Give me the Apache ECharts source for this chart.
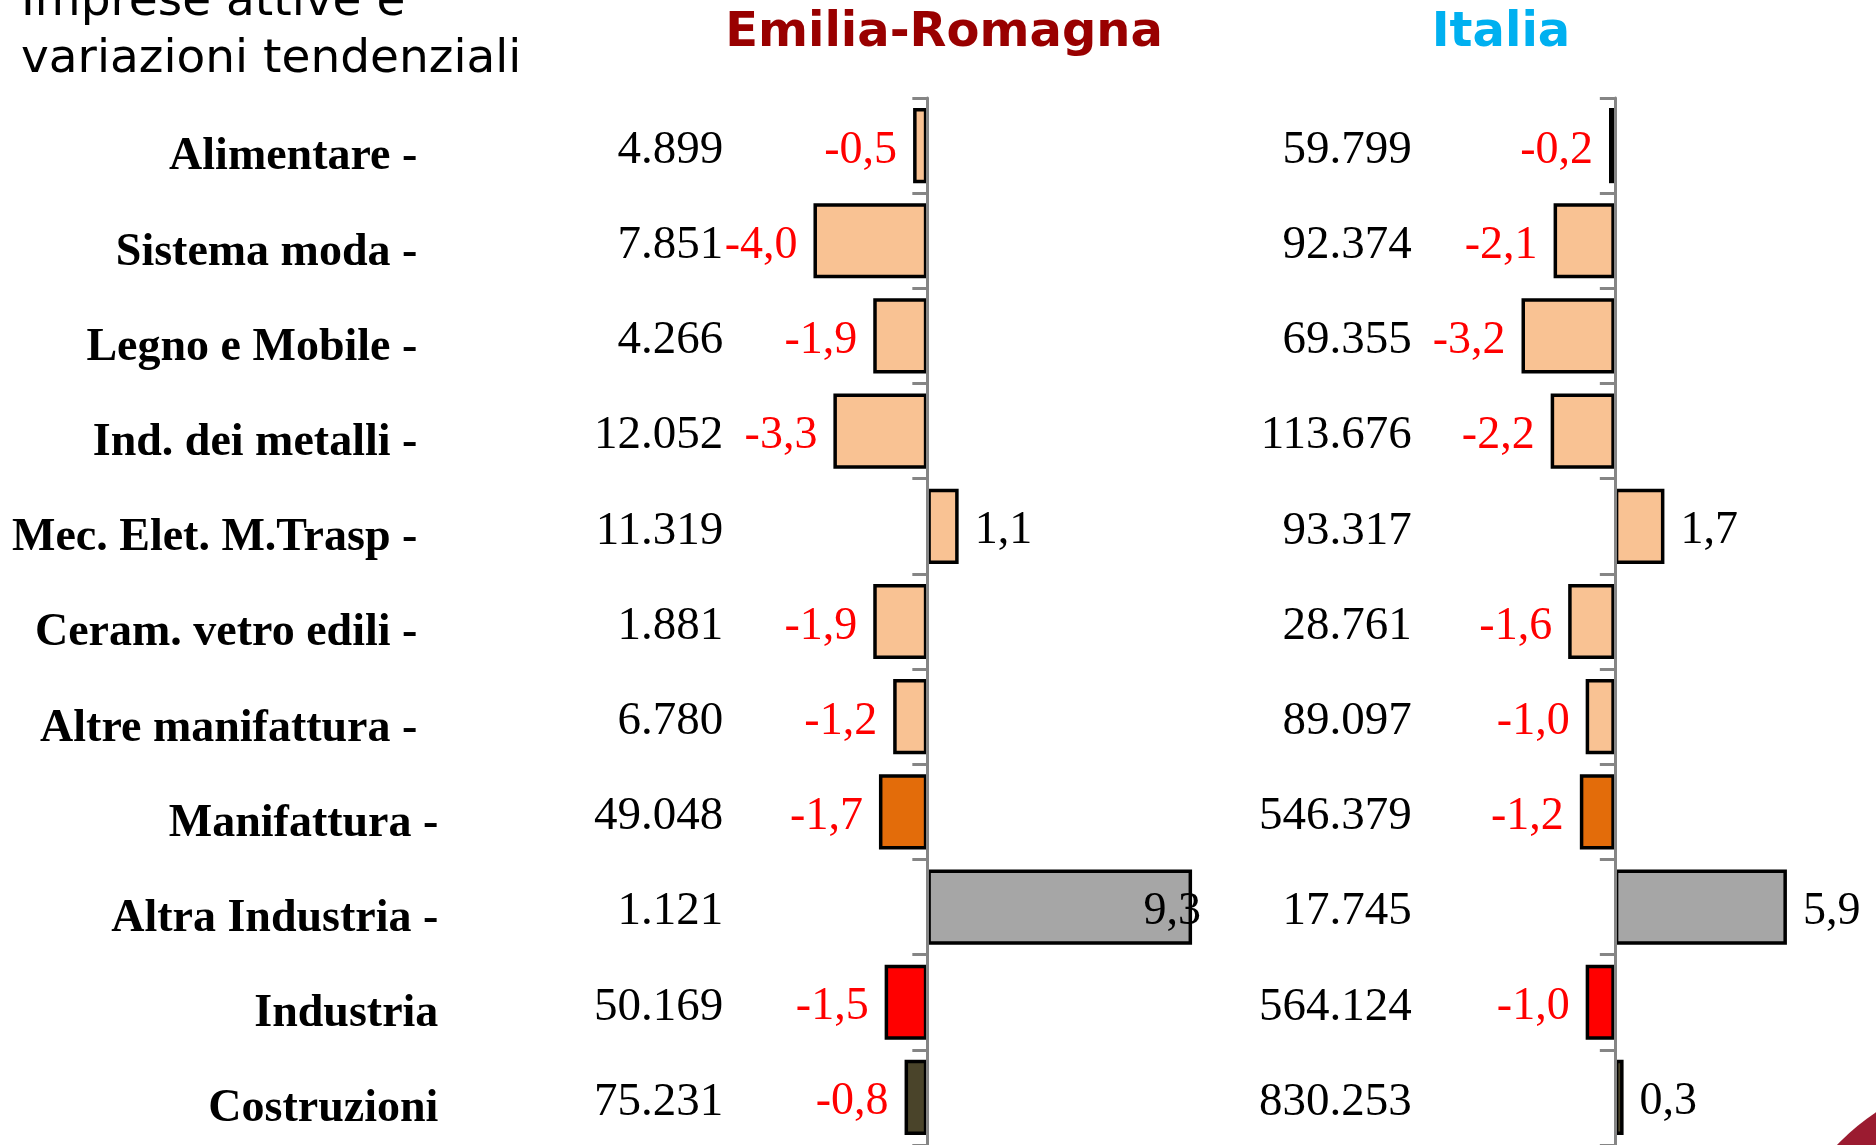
<!DOCTYPE html>
<html>
<head>
<meta charset="utf-8">
<script src="https://cdn.jsdelivr.net/npm/echarts@6/dist/echarts.min.js"></script>
<style>
html, body { margin: 0; padding: 0; background: #fff; }
#main { width: 1876px; height: 1145px; }
</style>
</head>
<body>
<div id="main"></div>
<script>
// settori
var categories = ['Alimentare -', 'Sistema moda -', 'Legno e Mobile -', 'Ind. dei metalli -',
    'Mec. Elet. M.Trasp -', 'Ceram. vetro edili -', 'Altre manifattura -', 'Manifattura -',
    'Altra Industria -', 'Industria', 'Costruzioni'];

// Emilia-Romagna: imprese attive e variazione %
var erCount = [4899, 7851, 4266, 12052, 11319, 1881, 6780, 49048, 1121, 50169, 75231];
var erVar = [-0.5, -4.0, -1.9, -3.3, 1.1, -1.9, -1.2, -1.7, 9.3, -1.5, -0.8];

// Italia
var itCount = [59799, 92374, 69355, 113676, 93317, 28761, 89097, 546379, 17745, 564124, 830253];
var itVar = [-0.2, -2.1, -3.2, -2.2, 1.7, -1.6, -1.0, -1.2, 5.9, -1.0, 0.3];

var barColors = ['#F9C293', '#F9C293', '#F9C293', '#F9C293', '#F9C293', '#F9C293', '#F9C293',
    '#E36C0A', '#A6A6A6', '#FF0000', '#4A442A'];

var serif = '"Liberation Serif", "Times New Roman", serif';
var sans = '"DejaVu Sans", Verdana, sans-serif';

function fmtCount(n) {
    return String(n).replace(/\B(?=(\d{3})+(?!\d))/g, '.');
}
function fmtVar(v) {
    return v.toFixed(1).replace('.', ',');
}

function barData(vals) {
    return vals.map(function (v, i) {
        return {
            value: v,
            itemStyle: {color: barColors[i]},
            label: {position: v < 0 ? 'left' : 'right', color: v < 0 ? '#FF0000' : '#000'}
        };
    });
}

var erData = barData(erVar);
// 9,3 finisce sopra il bordo della barra come nell'originale
erData[8].label = {position: 'insideRight', offset: [25, 5], color: '#000'};
var itData = barData(itVar);

var axisGray = '#858585';

// griglie: [left, width, min, max] -> l'asse categorie va spostato sullo zero
var erGrid = {left: 785, width: 427, min: -5, max: 10};
var itGrid = {left: 1469, width: 350, min: -5, max: 7};

function zeroShift(g) {
    return -g.width * (0 - g.min) / (g.max - g.min);
}

function catAxis(gridIndex, g, margin, formatter, rich) {
    return {
        gridIndex: gridIndex,
        type: 'category',
        data: categories,
        inverse: true,
        offset: zeroShift(g),
        z: 5,
        axisLine: {onZero: false, lineStyle: {color: axisGray, width: 3}},
        axisTick: {show: true, length: 15, lineStyle: {color: axisGray, width: 3}},
        axisLabel: {interval: 0, margin: margin, padding: [10, 0, 0, 0], formatter: formatter, rich: rich}
    };
}

var nameStyle = {fontFamily: serif, fontWeight: 'bold', fontSize: 46, color: '#000', width: 440, align: 'right', padding: [14, 0, 0, 0]};
var countStyle = {fontFamily: serif, fontSize: 47, color: '#000', align: 'right'};

var erRich = {
    n: nameStyle,
    c: Object.assign({}, countStyle, {width: 306}),
    d: Object.assign({}, countStyle, {width: 285})
};
var itRich = {c: countStyle};

var barLabel = {
    show: true,
    distance: 16,
    offset: [0, 5],
    fontFamily: serif,
    fontSize: 46,
    formatter: function (p) { return fmtVar(p.value); }
};

var chart = echarts.init(document.getElementById('main'));
var option = {
    backgroundColor: '#fff',
    animation: false,
    grid: [
        {left: erGrid.left, top: 98, width: erGrid.width, height: 1047, outerBoundsMode: 'none', containLabel: false},
        {left: itGrid.left, top: 98, width: itGrid.width, height: 1047, outerBoundsMode: 'none', containLabel: false}
    ],
    xAxis: [
        {gridIndex: 0, type: 'value', min: erGrid.min, max: erGrid.max, show: false},
        {gridIndex: 1, type: 'value', min: itGrid.min, max: itGrid.max, show: false}
    ],
    yAxis: [
        catAxis(0, erGrid, 204, function (value, index) {
            var key = index >= 7 ? 'd' : 'c';
            return '{n|' + value + '}{' + key + '|' + fmtCount(erCount[index]) + '}';
        }, erRich),
        catAxis(1, itGrid, 203, function (value, index) {
            return '{c|' + fmtCount(itCount[index]) + '}';
        }, itRich)
    ],
    series: [
        {
            name: 'Emilia-Romagna',
            type: 'bar',
            xAxisIndex: 0,
            yAxisIndex: 0,
            barCategoryGap: '21%',
            data: erData,
            itemStyle: {borderColor: '#000', borderWidth: 3.5},
            label: barLabel
        },
        {
            name: 'Italia',
            type: 'bar',
            xAxisIndex: 1,
            yAxisIndex: 1,
            barCategoryGap: '21%',
            data: itData,
            itemStyle: {borderColor: '#000', borderWidth: 3.5},
            label: barLabel
        }
    ],
    graphic: [
        {type: 'text', style: {x: 21, y: 3, text: 'Imprese attive e', font: '47px ' + sans, fill: '#000', verticalAlign: 'middle'}},
        {type: 'text', style: {x: 21, y: 60, text: 'variazioni tendenziali', font: '47px ' + sans, fill: '#000', verticalAlign: 'middle'}},
        {type: 'text', style: {x: 944, y: 34, text: 'Emilia-Romagna', font: 'bold 48px ' + sans, fill: '#990000', align: 'center', verticalAlign: 'middle'}},
        {type: 'text', style: {x: 1501, y: 34, text: 'Italia', font: 'bold 48px ' + sans, fill: '#00B0F0', align: 'center', verticalAlign: 'middle'}},
        {type: 'circle', shape: {cx: 2000, cy: 1300, r: 225}, style: {fill: '#9B1B30'}}
    ]
};
chart.setOption(option);
</script>
</body>
</html>
